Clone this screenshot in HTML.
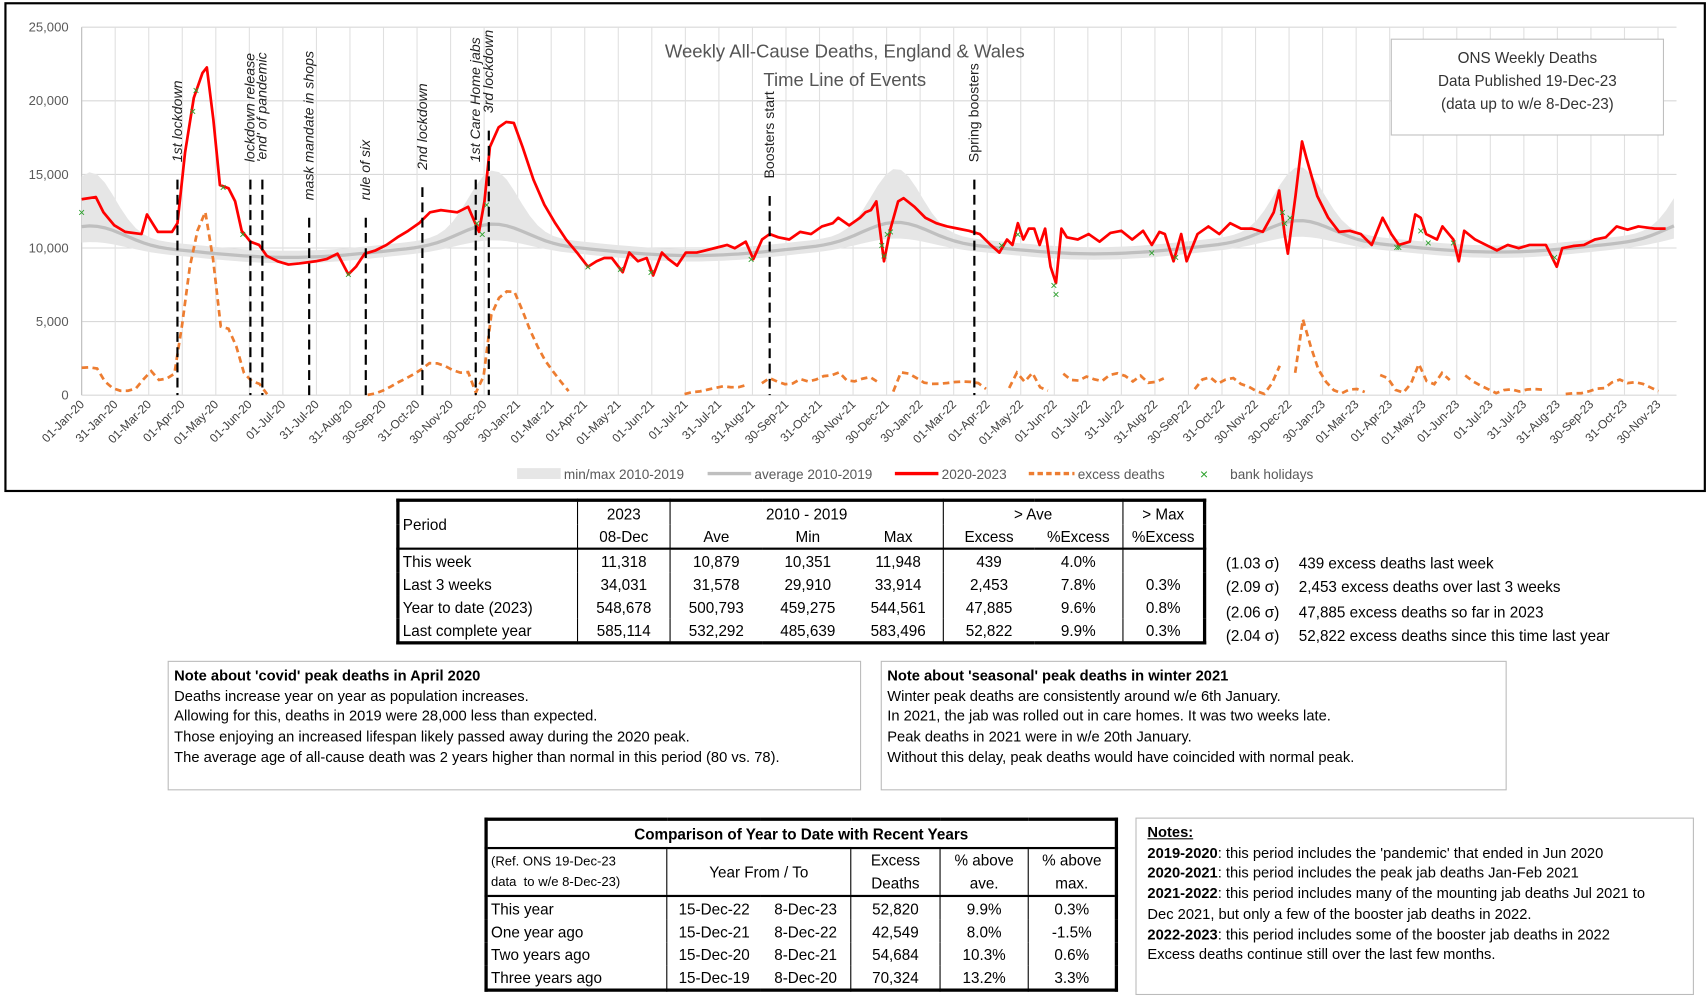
<!DOCTYPE html>
<html><head><meta charset="utf-8">
<style>
html,body{margin:0;padding:0;background:#fff;overflow:hidden}
#wrap{position:absolute;left:0;top:0;width:1568px;height:918px;transform:scale(1.08865);transform-origin:0 0;font-family:"Liberation Sans",sans-serif;color:#000}
.a{position:absolute;white-space:nowrap}
table{border-collapse:collapse;position:absolute;font-size:14px}
td{padding:0 3px;height:21px;white-space:nowrap}
.box{position:absolute;border:1px solid #bbb;font-size:13.5px;line-height:18.7px;padding:4px 5px;box-sizing:border-box}
</style></head><body><div id="wrap">
<svg id="ch" width="1568" height="455" style="position:absolute;left:0;top:0" font-family="Liberation Sans, sans-serif"></svg>

<table style="left:364px;top:458px;width:744px;border:3px solid #000">
<tr><td rowspan="2" style="border-right:1px solid #000;width:157px">Period</td><td style="text-align:center;border-right:1px solid #000;width:78px">2023</td><td colspan="3" style="text-align:center;border-right:1px solid #000">2010 - 2019</td><td colspan="2" style="text-align:center;border-right:1px solid #000">&gt; Ave</td><td style="text-align:center">&gt; Max</td></tr>
<tr style="border-bottom:2px solid #000"><td style="text-align:center;border-right:1px solid #000">08-Dec</td><td style="text-align:center;width:78px">Ave</td><td style="text-align:center;width:78px">Min</td><td style="text-align:center;border-right:1px solid #000;width:76px">Max</td><td style="text-align:center;width:77px">Excess</td><td style="text-align:center;border-right:1px solid #000;width:75px">%Excess</td><td style="text-align:center">%Excess</td></tr>
<tr><td style="border-right:1px solid #000">This week</td><td style="text-align:center;border-right:1px solid #000">11,318</td><td style="text-align:center">10,879</td><td style="text-align:center">10,351</td><td style="text-align:center;border-right:1px solid #000">11,948</td><td style="text-align:center">439</td><td style="text-align:center;border-right:1px solid #000">4.0%</td><td></td></tr>
<tr><td style="border-right:1px solid #000">Last 3 weeks</td><td style="text-align:center;border-right:1px solid #000">34,031</td><td style="text-align:center">31,578</td><td style="text-align:center">29,910</td><td style="text-align:center;border-right:1px solid #000">33,914</td><td style="text-align:center">2,453</td><td style="text-align:center;border-right:1px solid #000">7.8%</td><td style="text-align:center">0.3%</td></tr>
<tr><td style="border-right:1px solid #000">Year to date (2023)</td><td style="text-align:center;border-right:1px solid #000">548,678</td><td style="text-align:center">500,793</td><td style="text-align:center">459,275</td><td style="text-align:center;border-right:1px solid #000">544,561</td><td style="text-align:center">47,885</td><td style="text-align:center;border-right:1px solid #000">9.6%</td><td style="text-align:center">0.8%</td></tr>
<tr><td style="border-right:1px solid #000">Last complete year</td><td style="text-align:center;border-right:1px solid #000">585,114</td><td style="text-align:center">532,292</td><td style="text-align:center">485,639</td><td style="text-align:center;border-right:1px solid #000">583,496</td><td style="text-align:center">52,822</td><td style="text-align:center;border-right:1px solid #000">9.9%</td><td style="text-align:center">0.3%</td></tr>
</table>
<div class="a" style="left:1126px;top:506px;font-size:14px;line-height:22.4px">(1.03 σ)<br>(2.09 σ)<br>(2.06 σ)<br>(2.04 σ)</div>
<div class="a" style="left:1193px;top:506px;font-size:14px;line-height:22.4px">439 excess deaths last week<br>2,453 excess deaths over last 3 weeks<br>47,885 excess deaths so far in 2023<br>52,822 excess deaths since this time last year</div>

<div class="box" style="left:154px;top:607px;width:637px;height:119px"><b>Note about 'covid' peak deaths in April 2020</b><br>Deaths increase year on year as population increases.<br>Allowing for this, deaths in 2019 were 28,000 less than expected.<br>Those enjoying an increased lifespan likely passed away during the 2020 peak.<br>The average age of all-cause death was 2 years higher than normal in this period (80 vs. 78).</div>
<div class="box" style="left:809px;top:607px;width:575px;height:119px"><b>Note about 'seasonal' peak deaths in winter 2021</b><br>Winter peak deaths are consistently around w/e 6th January.<br>In 2021, the jab was rolled out in care homes. It was two weeks late.<br>Peak deaths in 2021 were in w/e 20th January.<br>Without this delay, peak deaths would have coincided with normal peak.</div>

<table style="left:445px;top:751px;width:582px;border:3px solid #000">
<tr style="border-bottom:2px solid #000"><td colspan="6" style="text-align:center;font-weight:bold;height:24px">Comparison of Year to Date with Recent Years</td></tr>
<tr style="border-bottom:2px solid #000"><td style="font-size:12px;line-height:19px;border-right:1px solid #000;width:158px;height:42px">(Ref. ONS 19-Dec-23<br>data &nbsp;to w/e 8-Dec-23)</td><td colspan="2" style="text-align:center;border-right:1px solid #000">Year From / To</td><td style="text-align:center;line-height:21px;border-right:1px solid #000">Excess<br>Deaths</td><td style="text-align:center;line-height:21px;border-right:1px solid #000">% above<br>ave.</td><td style="text-align:center;line-height:21px">% above<br>max.</td></tr>
<tr><td style="border-right:1px solid #000">This year</td><td style="text-align:center;width:80px">15-Dec-22</td><td style="text-align:center;border-right:1px solid #000;width:76px">8-Dec-23</td><td style="text-align:center;border-right:1px solid #000;width:75px">52,820</td><td style="text-align:center;border-right:1px solid #000;width:74px">9.9%</td><td style="text-align:center">0.3%</td></tr>
<tr><td style="border-right:1px solid #000">One year ago</td><td style="text-align:center">15-Dec-21</td><td style="text-align:center;border-right:1px solid #000">8-Dec-22</td><td style="text-align:center;border-right:1px solid #000">42,549</td><td style="text-align:center;border-right:1px solid #000">8.0%</td><td style="text-align:center">-1.5%</td></tr>
<tr><td style="border-right:1px solid #000">Two years ago</td><td style="text-align:center">15-Dec-20</td><td style="text-align:center;border-right:1px solid #000">8-Dec-21</td><td style="text-align:center;border-right:1px solid #000">54,684</td><td style="text-align:center;border-right:1px solid #000">10.3%</td><td style="text-align:center">0.6%</td></tr>
<tr><td style="border-right:1px solid #000">Three years ago</td><td style="text-align:center">15-Dec-19</td><td style="text-align:center;border-right:1px solid #000">8-Dec-20</td><td style="text-align:center;border-right:1px solid #000">70,324</td><td style="text-align:center;border-right:1px solid #000">13.2%</td><td style="text-align:center">3.3%</td></tr>
</table>

<div class="box" style="left:1043px;top:751px;width:513px;height:163px;padding-left:10px"><b><u>Notes:</u></b><br><b>2019-2020</b>: this period includes the 'pandemic' that ended in Jun 2020<br><b>2020-2021</b>: this period includes the peak jab deaths Jan-Feb 2021<br><b>2021-2022</b>: this period includes many of the mounting jab deaths Jul 2021 to<br>Dec 2021, but only a few of the booster jab deaths in 2022.<br><b>2022-2023</b>: this period includes some of the booster jab deaths in 2022<br>Excess deaths continue still over the last few months.</div>
</div>
<script>
var s=document.getElementById('ch'),h='';
function Y(v){return 363-v*67.6/5000;}
h+='<rect x="5" y="3" width="1561" height="448" fill="#fff" stroke="#000" stroke-width="2"/>';
for(var k=0;k<=5;k++){var y=Y(k*5000);h+='<line x1="75" x2="1540" y1="'+y+'" y2="'+y+'" stroke="#d9d9d9"/>';h+='<text x="63" y="'+(y+4)+'" font-size="12" fill="#595959" text-anchor="end">'+(k?(k*5)+',000':'0')+'</text>';}
var labs="01-Jan-20 31-Jan-20 01-Mar-20 01-Apr-20 01-May-20 01-Jun-20 01-Jul-20 31-Jul-20 31-Aug-20 30-Sep-20 31-Oct-20 30-Nov-20 30-Dec-20 30-Jan-21 01-Mar-21 01-Apr-21 01-May-21 01-Jun-21 01-Jul-21 31-Jul-21 31-Aug-21 30-Sep-21 31-Oct-21 30-Nov-21 30-Dec-21 30-Jan-22 01-Mar-22 01-Apr-22 01-May-22 01-Jun-22 01-Jul-22 31-Jul-22 31-Aug-22 30-Sep-22 31-Oct-22 30-Nov-22 30-Dec-22 30-Jan-23 01-Mar-23 01-Apr-23 01-May-23 01-Jun-23 01-Jul-23 31-Jul-23 31-Aug-23 30-Sep-23 31-Oct-23 30-Nov-23".split(' ');
for(var i=0;i<labs.length;i++){var x=75+i*(1523-75)/47;h+='<line x1="'+x+'" x2="'+x+'" y1="25" y2="363" stroke="#e0e0e0"/>';h+='<text transform="translate('+(x+3)+',372) rotate(-45)" font-size="11" fill="#404040" text-anchor="end">'+labs[i]+'</text>';}
h+='<line x1="75" x2="75" y1="25" y2="363" stroke="#bfbfbf"/>';
function cc(x){var d=(x-75)/1.0133;var doy=d%365.25;return [Math.cos(2*Math.PI*(doy-8)/365.25),d];}
function avg(x){var r=cc(x),c=r[0],p=Math.max(0,c);return 9300+900*(c+1)/2+1300*Math.pow(p,4)+(r[1]/365)*120;}
function bup(x){var p=Math.max(0,cc(x)[0]);return 450+3200*Math.pow(p,8);}
function bdn(x){var p=Math.max(0,cc(x)[0]);return 400+700*Math.pow(p,4);}
var up=[],dn=[],av=[];
for(var x=75;x<=1540;x+=7.1){var a=avg(x);up.push(x.toFixed(1)+','+Y(a+bup(x)).toFixed(1));dn.unshift(x.toFixed(1)+','+Y(a-bdn(x)).toFixed(1));av.push(x.toFixed(1)+','+Y(a).toFixed(1));}
h+='<polygon points="'+up.join(' ')+' '+dn.join(' ')+'" fill="#e6e6e6"/>';
h+='<polyline points="'+av.join(' ')+'" fill="none" stroke="#bfbfbf" stroke-width="3"/>';
var R=[[75,183],[88,181],[95,195],[105,207],[115,213],[130,215],[135,197],[145,213],[158,213],[163,205],[170,140],[178,90],[186,67],[190,62],[196,110],[202,170],[210,173],[216,185],[222,212],[230,222],[238,225],[245,235],[255,240],[265,243],[275,242],[290,240],[300,238],[310,233],[320,252],[327,245],[335,233],[345,230],[355,225],[365,218],[375,212],[385,205],[395,195],[405,193],[420,195],[430,190],[440,213],[445,185],[450,135],[458,117],[465,112],[472,113],[480,135],[490,165],[500,188],[510,205],[520,220],[530,232],[540,245],[548,240],[555,237],[562,237],[572,250],[578,232],[586,240],[594,237],[600,253],[608,232],[614,238],[622,244],[630,232],[640,232],[648,230],[660,227],[668,225],[675,228],[685,222],[692,238],[700,220],[707,215],[715,218],[725,220],[735,213],[745,215],[755,208],[765,205],[770,200],[780,207],[790,200],[795,195],[800,193],[805,185],[812,240],[818,210],[825,185],[830,182],[840,190],[850,200],[860,205],[870,208],[880,210],[890,212],[900,215],[910,225],[918,232],[925,220],[930,225],[935,205],[940,220],[945,210],[950,210],[955,225],[960,210],[965,245],[970,260],[975,210],[980,218],[990,220],[1000,215],[1010,222],[1020,214],[1030,212],[1040,220],[1050,212],[1058,225],[1065,213],[1070,215],[1078,240],[1085,215],[1090,240],[1100,215],[1110,208],[1120,215],[1130,205],[1140,210],[1150,210],[1160,213],[1170,195],[1175,175],[1180,215],[1183,233],[1190,180],[1196,130],[1200,145],[1210,180],[1220,200],[1230,213],[1240,212],[1250,215],[1260,225],[1270,200],[1278,215],[1285,225],[1295,222],[1300,197],[1305,200],[1310,215],[1320,220],[1325,208],[1335,220],[1340,240],[1345,212],[1355,220],[1365,225],[1375,230],[1385,225],[1395,228],[1405,225],[1420,225],[1430,245],[1435,228],[1445,226],[1455,225],[1465,220],[1475,218],[1485,208],[1495,211],[1505,208],[1520,210],[1530,210]];
function ry(x){for(var i=1;i<R.length;i++){if(R[i][0]>=x){var t=(x-R[i-1][0])/(R[i][0]-R[i-1][0]);return R[i-1][1]+t*(R[i][1]-R[i-1][1]);}}return R[R.length-1][1];}
var seg=[],segs=[];
for(var x=75;x<=1530;x+=7.1){var e=Y(avg(x))-ry(x);if(e>0){seg.push(x.toFixed(1)+','+(363-e).toFixed(1));}else{if(seg.length>1)segs.push(seg);seg=[];}}
if(seg.length>1)segs.push(seg);
segs.forEach(function(g){h+='<polyline points="'+g.join(' ')+'" fill="none" stroke="#ED7D31" stroke-width="2.5" stroke-dasharray="6,4"/>';});
h+='<polyline points="'+R.map(function(p){return p.join(',')}).join(' ')+'" fill="none" stroke="#ff0000" stroke-width="2.5" stroke-linejoin="round"/>';
[[75,195],[177,102],[180,83],[205,172],[223,215],[320,252],[438,205],[443,215],[447,188],[540,245],[570,247],[598,250],[690,238],[810,225],[812,235],[815,215],[818,213],[920,225],[935,215],[968,262],[970,270],[1058,232],[1080,236],[1178,195],[1180,205],[1185,200],[1283,227],[1285,227],[1305,212],[1312,223],[1335,223],[1428,236]].forEach(function(p){h+='<text x="'+p[0]+'" y="'+(p[1]+4)+'" font-size="11" fill="#2ca02c" text-anchor="middle">×</text>';});
[[163,165,'1st lockdown',150,1],[230,165,'lockdown release',45,1],[241,165,"'end' of pandemic",35,1],[284,200,'mask mandate in shops',45,1],[336,200,'rule of six',110,1],[388,172,'2nd lockdown',85,1],[437,165,'1st Care Home jabs',50,1],[449,120,'3rd lockdown',32,1],[707,180,'Boosters start',95,0],[895,165,'Spring boosters',60,0]].forEach(function(e){
h+='<line x1="'+e[0]+'" x2="'+e[0]+'" y1="'+e[1]+'" y2="363" stroke="#000" stroke-width="2" stroke-dasharray="9,5"/>';
h+='<text transform="translate('+(e[0]+4)+','+(e[1]-16)+') rotate(-90)" font-size="13" '+(e[4]?'font-style="italic"':'')+' fill="#222">'+e[2]+'</text>';});
h+='<text x="776" y="53" font-size="17" fill="#555" text-anchor="middle">Weekly All-Cause Deaths, England &amp; Wales</text><text x="776" y="79" font-size="17" fill="#555" text-anchor="middle">Time Line of Events</text>';
h+='<rect x="1278" y="36" width="250" height="88" fill="#fff" stroke="#bfbfbf"/><text font-size="14" fill="#333" text-anchor="middle"><tspan x="1403" y="58">ONS Weekly Deaths</tspan><tspan x="1403" y="79">Data Published 19-Dec-23</tspan><tspan x="1403" y="100">(data up to w/e 8-Dec-23)</tspan></text>';
h+='<rect x="475" y="430" width="40" height="10" fill="#e6e6e6"/><text x="518" y="440" font-size="12.5" fill="#595959">min/max 2010-2019</text>';
h+='<line x1="650" x2="690" y1="435" y2="435" stroke="#bfbfbf" stroke-width="3"/><text x="693" y="440" font-size="12.5" fill="#595959">average 2010-2019</text>';
h+='<line x1="822" x2="862" y1="435" y2="435" stroke="#f00" stroke-width="3"/><text x="865" y="440" font-size="12.5" fill="#595959">2020-2023</text>';
h+='<line x1="945" x2="987" y1="435" y2="435" stroke="#ED7D31" stroke-width="3" stroke-dasharray="5,3"/><text x="990" y="440" font-size="12.5" fill="#595959">excess deaths</text>';
h+='<text x="1106" y="440" font-size="13" fill="#2ca02c" text-anchor="middle">×</text><text x="1130" y="440" font-size="12.5" fill="#595959">bank holidays</text>';
s.innerHTML=h;
</script>
</body></html>
